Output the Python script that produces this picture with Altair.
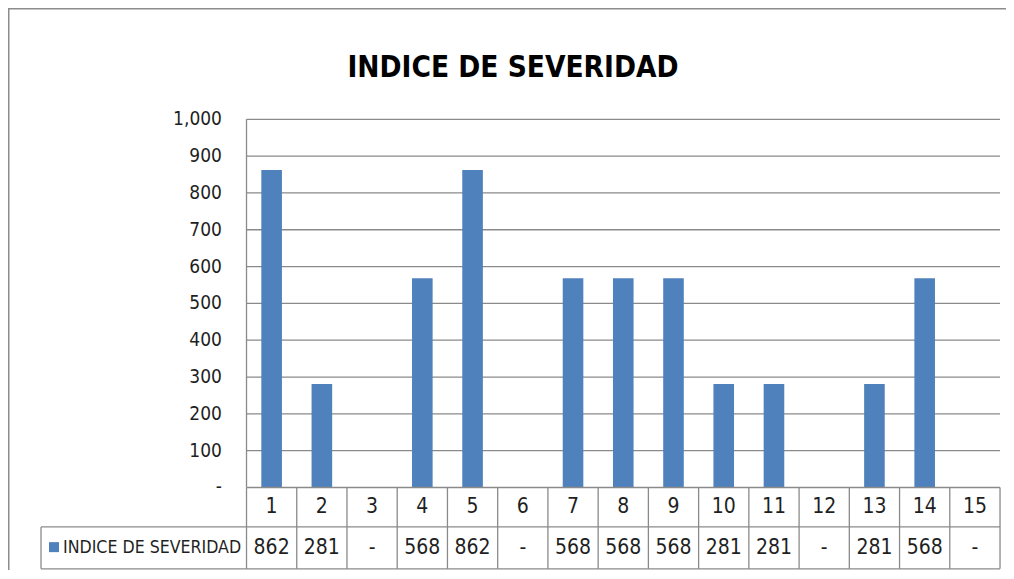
import altair as alt
import pandas as pd

# ---------------- data ----------------
categories = list(range(1, 16))
values = [862, 281, 0, 568, 862, 0, 568, 568, 568, 281, 281, 0, 281, 568, 0]
value_labels = ["862", "281", "-", "568", "862", "-", "568", "568", "568",
                "281", "281", "-", "281", "568", "-"]
y_ticks = [0, 100, 200, 300, 400, 500, 600, 700, 800, 900, 1000]
y_tick_labels = ["-", "100", "200", "300", "400", "500", "600", "700", "800", "900", "1,000"]
series_name = "INDICE DE SEVERIDAD"
title_text = "INDICE DE SEVERIDAD"

# ---------------- layout / style ----------------
W, H = 998, 562
N = len(categories)
XDOM = [-4.748, 15.119]
YDOM = [-224.1, 1302.3]
PX_X = W / (XDOM[1] - XDOM[0])
PX_Y = H / (YDOM[1] - YDOM[0])
ROW_MID = -107
TABLE_BOTTOM = -221
HEADER_LEFT = -4.091
BAR_HALF = 0.205
FONT = "DejaVu Sans Condensed"
GRID = "#8a8a8a"
BLUE = "#4f81bd"
TXT = "#1f1f1f"

xs = alt.Scale(domain=XDOM, nice=False, zero=False)
ys = alt.Scale(domain=YDOM, nice=False, zero=False)


def X(f):
    return alt.X(f, type="quantitative", scale=xs, axis=None)


def Y(f):
    return alt.Y(f, type="quantitative", scale=ys, axis=None)


bars_df = pd.DataFrame({"cat": categories, "val": values, "label": value_labels})
bars_df["xc"] = bars_df["cat"] - 0.5
bars_df["x0"] = bars_df["xc"] - BAR_HALF
bars_df["x1"] = bars_df["xc"] + BAR_HALF
bars_df["base"] = 0
bars_df["ycat"] = -53
bars_df["yval"] = -164

ticks_df = pd.DataFrame({"y": y_ticks, "label": y_tick_labels})
ticks_df["x"] = -0.488

grid_df = pd.DataFrame({"y": y_ticks[1:]})
grid_df["x0"] = 0
grid_df["x1"] = N

segs = [{"xa": 0, "xb": 0, "ya": y_ticks[-1], "yb": 0}]
for i in range(N + 1):
    segs.append({"xa": i, "xb": i, "ya": 0, "yb": TABLE_BOTTOM})
segs.append({"xa": 0, "xb": N, "ya": 0, "yb": 0})
segs.append({"xa": HEADER_LEFT, "xb": N, "ya": ROW_MID, "yb": ROW_MID})
segs.append({"xa": HEADER_LEFT, "xb": N, "ya": TABLE_BOTTOM, "yb": TABLE_BOTTOM})
segs.append({"xa": HEADER_LEFT, "xb": HEADER_LEFT, "ya": ROW_MID, "yb": TABLE_BOTTOM})
segs_df = pd.DataFrame(segs)

frame_df = pd.DataFrame([
    {"xa": XDOM[0], "xb": XDOM[0], "ya": YDOM[0], "yb": YDOM[1]},
    {"xa": XDOM[0], "xb": XDOM[1], "ya": YDOM[1], "yb": YDOM[1]},
])

header_df = pd.DataFrame({"name": [series_name], "x": [-3.653], "y": [-164],
                          "sx": [-3.832], "sy": [-162]})

# title position: centred near x=505px, baseline at 69px from the top
title_df = pd.DataFrame({"t": [title_text],
                         "x": [XDOM[0] + 505 / PX_X],
                         "y": [YDOM[1] - 69 / PX_Y]})

grid = alt.Chart(grid_df).mark_rule(color=GRID, strokeWidth=1.3).encode(
    x=X("x0"), x2="x1", y=Y("y")
)

table_lines = alt.Chart(segs_df).mark_rule(color=GRID, strokeWidth=1.3).encode(
    x=X("xa"), x2="xb", y=Y("ya"), y2="yb"
)

frame = alt.Chart(frame_df).mark_rule(color="#8c8c8c", strokeWidth=3).encode(
    x=X("xa"), x2="xb", y=Y("ya"), y2="yb"
)

bars = alt.Chart(bars_df).mark_rect(color=BLUE).encode(
    x=X("x0"), x2="x1", y=Y("val"), y2="base"
)

ytick_text = alt.Chart(ticks_df).mark_text(
    align="right", baseline="middle", font=FONT, fontSize=19, color=TXT
).encode(x=X("x"), y=Y("y"), text="label:N")

cat_text = alt.Chart(bars_df).mark_text(
    align="center", baseline="middle", font=FONT, fontSize=21, color=TXT
).encode(x=X("xc"), y=Y("ycat"), text="cat:N")

val_text = alt.Chart(bars_df).mark_text(
    align="center", baseline="middle", font=FONT, fontSize=21, color=TXT
).encode(x=X("xc"), y=Y("yval"), text="label:N")

header_text = alt.Chart(header_df).mark_text(
    align="left", baseline="middle", font=FONT, fontSize=17.6, color=TXT
).encode(x=X("x"), y=Y("y"), text="name:N")

legend_sq = alt.Chart(header_df).mark_square(size=100, color=BLUE, opacity=1).encode(
    x=X("sx"), y=Y("sy")
)

title_mark = alt.Chart(title_df).mark_text(
    align="center", baseline="alphabetic", font=FONT, fontSize=29.5, fontWeight="bold",
    color="black"
).encode(x=X("x"), y=Y("y"), text="t:N")

chart = alt.layer(
    grid, bars, table_lines, ytick_text, cat_text, val_text, header_text, legend_sq,
    frame, title_mark
).properties(
    width=W, height=H,
    padding=0,
    autosize=alt.AutoSizeParams(type="none"),
).configure_view(stroke=None)

chart.save("out.html", embed_options={"renderer": "svg", "actions": False})
